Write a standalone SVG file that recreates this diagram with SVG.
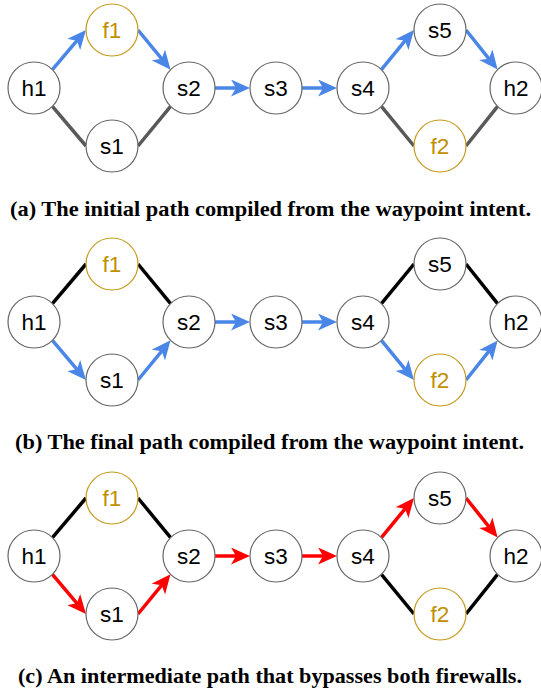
<svg xmlns="http://www.w3.org/2000/svg" width="541" height="692" viewBox="0 0 541 692">
<style>
.n{fill:#fff;stroke:#666;stroke-width:1.2}
.f{fill:#fff;stroke:#c49a1c;stroke-width:1.2}
.t{font-family:"Liberation Sans",Arial,sans-serif;font-size:22.5px;text-anchor:middle;fill:#000}
.ft{fill:#bf9000}
.g{stroke:#595959;stroke-width:3.5;fill:none}
.k{stroke:#000;stroke-width:3.5;fill:none}
.b{stroke:#4a86e8;stroke-width:3.5;fill:none;marker-end:url(#ab)}
.r{stroke:#ff0000;stroke-width:3.5;fill:none;marker-end:url(#ar)}
.cap{font-family:"Liberation Serif","Times New Roman",serif;font-weight:bold;font-size:21px;text-anchor:middle;fill:#000}
</style>
<defs>
<marker id="ab" markerUnits="userSpaceOnUse" viewBox="0 0 19 17" markerWidth="19" markerHeight="17" refX="9" refY="8.5" orient="auto"><path d="M0,0 L19,8.5 L0,17 L5,8.5 Z" fill="#4a86e8"/></marker>
<marker id="ar" markerUnits="userSpaceOnUse" viewBox="0 0 19 17" markerWidth="19" markerHeight="17" refX="9" refY="8.5" orient="auto"><path d="M0,0 L19,8.5 L0,17 L5,8.5 Z" fill="#ff0000"/></marker>
</defs>
<rect width="541" height="692" fill="#fff"/>

<!-- Panel (a) -->
<g id="panel-a">
<g id="a-edges">
<line class="b" x1="52.4" y1="69.6" x2="79.5" y2="37.6"/>
<line class="b" x1="138" y1="30" x2="164.2" y2="61.9"/>
<line class="g" x1="52.4" y1="106.4" x2="86" y2="146"/>
<line class="g" x1="138" y1="146" x2="170.6" y2="106.4"/>
<line class="b" x1="215" y1="88" x2="240" y2="88"/>
<line class="b" x1="302" y1="88" x2="327" y2="88"/>
<line class="b" x1="381.4" y1="69.6" x2="407.6" y2="37.7"/>
<line class="b" x1="466" y1="30" x2="491.4" y2="61.8"/>
<line class="g" x1="381.4" y1="106.4" x2="414" y2="146"/>
<line class="g" x1="466" y1="146" x2="497.6" y2="106.4"/>
</g>
<g id="a-h1"><circle class="n" cx="34" cy="88" r="26"/><text class="t" x="34" y="96">h1</text></g>
<g id="a-f1"><circle class="f" cx="112" cy="30" r="26"/><text class="t ft" x="112" y="38">f1</text></g>
<g id="a-s1"><circle class="n" cx="112" cy="146" r="26"/><text class="t" x="112" y="154">s1</text></g>
<g id="a-s2"><circle class="n" cx="189" cy="88" r="26"/><text class="t" x="189" y="96">s2</text></g>
<g id="a-s3"><circle class="n" cx="276" cy="88" r="26"/><text class="t" x="276" y="96">s3</text></g>
<g id="a-s4"><circle class="n" cx="363" cy="88" r="26"/><text class="t" x="363" y="96">s4</text></g>
<g id="a-s5"><circle class="n" cx="440" cy="30" r="26"/><text class="t" x="440" y="38">s5</text></g>
<g id="a-f2"><circle class="f" cx="440" cy="146" r="26"/><text class="t ft" x="440" y="154">f2</text></g>
<g id="a-h2"><circle class="n" cx="516" cy="88" r="26"/><text class="t" x="516" y="96">h2</text></g>
<text class="cap" x="270.5" y="216" textLength="521" lengthAdjust="spacingAndGlyphs">(a) The initial path compiled from the waypoint intent.</text>
</g>

<!-- Panel (b) -->
<g id="panel-b" transform="translate(0,234)">
<g id="b-edges">
<line class="k" x1="52.4" y1="69.6" x2="86" y2="30"/>
<line class="k" x1="138" y1="30" x2="170.6" y2="69.6"/>
<line class="b" x1="52.4" y1="106.4" x2="79.5" y2="138.4"/>
<line class="b" x1="138" y1="146" x2="164.2" y2="114.1"/>
<line class="b" x1="215" y1="88" x2="240" y2="88"/>
<line class="b" x1="302" y1="88" x2="327" y2="88"/>
<line class="k" x1="381.4" y1="69.6" x2="414" y2="30"/>
<line class="k" x1="466" y1="30" x2="497.6" y2="69.6"/>
<line class="b" x1="381.4" y1="106.4" x2="407.6" y2="138.3"/>
<line class="b" x1="466" y1="146" x2="491.4" y2="114.2"/>
</g>
<g id="b-h1"><circle class="n" cx="34" cy="88" r="26"/><text class="t" x="34" y="96">h1</text></g>
<g id="b-f1"><circle class="f" cx="112" cy="30" r="26"/><text class="t ft" x="112" y="38">f1</text></g>
<g id="b-s1"><circle class="n" cx="112" cy="146" r="26"/><text class="t" x="112" y="154">s1</text></g>
<g id="b-s2"><circle class="n" cx="189" cy="88" r="26"/><text class="t" x="189" y="96">s2</text></g>
<g id="b-s3"><circle class="n" cx="276" cy="88" r="26"/><text class="t" x="276" y="96">s3</text></g>
<g id="b-s4"><circle class="n" cx="363" cy="88" r="26"/><text class="t" x="363" y="96">s4</text></g>
<g id="b-s5"><circle class="n" cx="440" cy="30" r="26"/><text class="t" x="440" y="38">s5</text></g>
<g id="b-f2"><circle class="f" cx="440" cy="146" r="26"/><text class="t ft" x="440" y="154">f2</text></g>
<g id="b-h2"><circle class="n" cx="516" cy="88" r="26"/><text class="t" x="516" y="96">h2</text></g>
<text class="cap" x="269.5" y="215" textLength="509" lengthAdjust="spacingAndGlyphs">(b) The final path compiled from the waypoint intent.</text>
</g>

<!-- Panel (c) -->
<g id="panel-c" transform="translate(0,468)">
<g id="c-edges">
<line class="k" x1="52.4" y1="69.6" x2="86" y2="30"/>
<line class="k" x1="138" y1="30" x2="170.6" y2="69.6"/>
<line class="r" x1="52.4" y1="106.4" x2="79.5" y2="138.4"/>
<line class="r" x1="138" y1="146" x2="164.2" y2="114.1"/>
<line class="r" x1="215" y1="88" x2="240" y2="88"/>
<line class="r" x1="302" y1="88" x2="327" y2="88"/>
<line class="r" x1="381.4" y1="69.6" x2="407.6" y2="37.7"/>
<line class="r" x1="466" y1="30" x2="491.4" y2="61.8"/>
<line class="k" x1="381.4" y1="106.4" x2="414" y2="146"/>
<line class="k" x1="466" y1="146" x2="497.6" y2="106.4"/>
</g>
<g id="c-h1"><circle class="n" cx="34" cy="88" r="26"/><text class="t" x="34" y="96">h1</text></g>
<g id="c-f1"><circle class="f" cx="112" cy="30" r="26"/><text class="t ft" x="112" y="38">f1</text></g>
<g id="c-s1"><circle class="n" cx="112" cy="146" r="26"/><text class="t" x="112" y="154">s1</text></g>
<g id="c-s2"><circle class="n" cx="189" cy="88" r="26"/><text class="t" x="189" y="96">s2</text></g>
<g id="c-s3"><circle class="n" cx="276" cy="88" r="26"/><text class="t" x="276" y="96">s3</text></g>
<g id="c-s4"><circle class="n" cx="363" cy="88" r="26"/><text class="t" x="363" y="96">s4</text></g>
<g id="c-s5"><circle class="n" cx="440" cy="30" r="26"/><text class="t" x="440" y="38">s5</text></g>
<g id="c-f2"><circle class="f" cx="440" cy="146" r="26"/><text class="t ft" x="440" y="154">f2</text></g>
<g id="c-h2"><circle class="n" cx="516" cy="88" r="26"/><text class="t" x="516" y="96">h2</text></g>
<text class="cap" x="270" y="215" textLength="504" lengthAdjust="spacingAndGlyphs">(c) An intermediate path that bypasses both firewalls.</text>
</g>
</svg>
